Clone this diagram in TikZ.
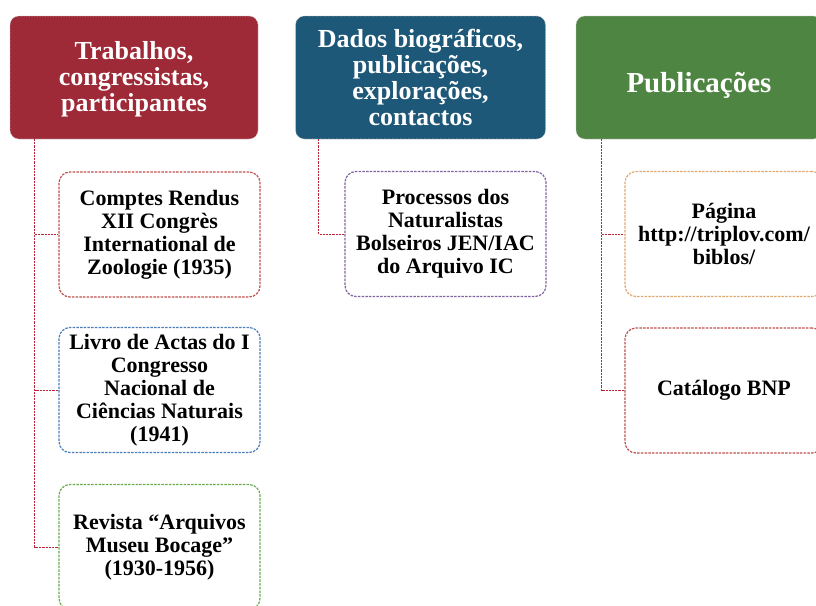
\documentclass[tikz,border=0pt]{standalone}
\usepackage{fontspec}
\setmainfont{Liberation Serif}
\definecolor{hred}{HTML}{9E2A38}
\definecolor{hblue}{HTML}{1E5878}
\definecolor{hgreen}{HTML}{4E8542}
\definecolor{bred}{HTML}{C0504D}
\definecolor{bblue}{HTML}{4A7EBB}
\definecolor{bgreen}{HTML}{6AAA4A}
\definecolor{bpurple}{HTML}{8064A2}
\definecolor{borange}{HTML}{E0A870}
\definecolor{conncol}{HTML}{B8283A}
\tikzset{
  header/.style={rounded corners=9pt, draw=gray!45, densely dotted, line width=0.6pt,
    text=white, font=\bfseries\fontsize{26}{26}\selectfont, align=center, inner sep=0pt},
  childbox/.style={rounded corners=11pt, fill=white, dash pattern=on 2.5pt off 1.2pt,
    line width=1.2pt, font=\bfseries\fontsize{22}{23}\selectfont, align=center,
    minimum width=201pt, minimum height=125pt, inner sep=0pt},
  conn/.style={draw=conncol, line width=1pt, dash pattern=on 2.2pt off 1pt}
}
\begin{document}
\begin{tikzpicture}[x=1pt,y=-1pt]
\clip (0,0) rectangle (816,605);
\fill[white] (0,0) rectangle (816,605);
% headers
\node[header, fill=hred, minimum width=248pt, minimum height=123pt] (h1) at (134,77.5)
  {\rule{0pt}{22pt}Trabalhos,\\congressistas,\\participantes};
\node[header, fill=hblue, minimum width=250pt, minimum height=123pt] (h2) at (420.5,77.5)
  {Dados biográficos,\\publicações,\\explorações,\\contactos};
\node[header, fill=hgreen, minimum width=246pt, minimum height=123pt,
  font=\bfseries\fontsize{29}{29}\selectfont] (h3) at (699,77.5) {\rule{0pt}{36pt}Publicações};
% children
\node[childbox, draw=bred] (c1) at (159.5,234.5)
  {Comptes Rendus\\XII Congrès\\International de\\Zoologie (1935)};
\node[childbox, draw=bblue] (c2) at (159.5,390)
  {Livro de Actas do I\\Congresso\\Nacional de\\Ciências Naturais\\(1941)};
\node[childbox, draw=bgreen] (c3) at (159.5,547)
  {Revista “Arquivos\\Museu Bocage”\\(1930-1956)};
\node[childbox, draw=bpurple] (d1) at (445.5,234)
  {Processos dos\\Naturalistas\\Bolseiros JEN/IAC\\do Arquivo IC};
\node[childbox, draw=borange, minimum width=198pt] (p1) at (724,234)
  {Página\\http://triplov.com/\\biblos/};
\node[childbox, draw=bred, minimum width=198pt] (p2) at (724,390.5)
  {Catálogo BNP};
% connector starts
\coordinate (s1) at (34.5,139);
\coordinate (s2) at (318.5,139);
\coordinate (s3) at (601,139);
\draw[conn] (s1) |- (c1.west);
\draw[conn] (s1) |- (c2.west);
\draw[conn] (s1) |- (c3.west);
\draw[conn] (s2) |- (d1.west);
\draw[conn] (s3) |- (p1.west);
\draw[conn] (s3) |- (p2.west);
\end{tikzpicture}
\end{document}
